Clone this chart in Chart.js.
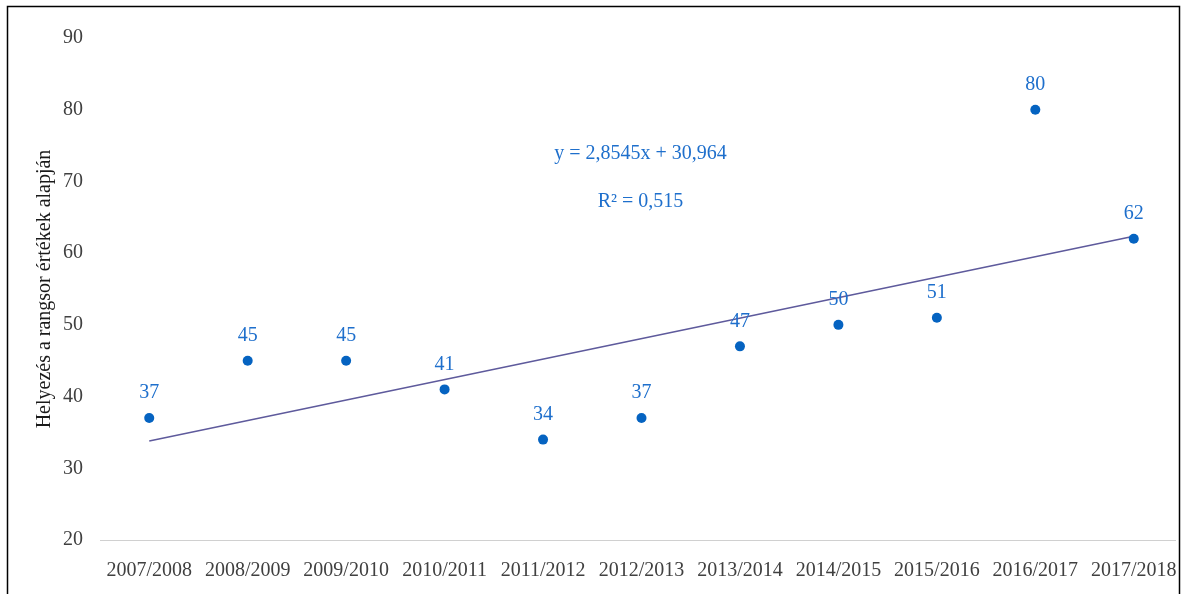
<!DOCTYPE html>
<html>
<head>
<meta charset="utf-8">
<script src="https://cdn.jsdelivr.net/npm/chart.js@4/dist/chart.umd.min.js"></script>
<style>
  html, body { margin: 0; padding: 0; background: #ffffff; }
  #wrap { width: 1183px; height: 594px; position: relative; }
</style>
</head>
<body>
<div id="wrap"><canvas id="c" width="1183" height="594"></canvas></div>
<script>
// Tanévek és a rangsor szerinti helyezések
const seasons = ['2007/2008','2008/2009','2009/2010','2010/2011','2011/2012','2012/2013',
                 '2013/2014','2014/2015','2015/2016','2016/2017','2017/2018'];
const rankValues = [37, 45, 45, 41, 34, 37, 47, 50, 51, 80, 62];
// Lineáris trend végpontjai (y = 2,8545x + 30,964 az első és utolsó tanévnél)
const trendEnds = [33.82, 62.36];
const yTicks = [20, 30, 40, 50, 60, 70, 80, 90];
const equationText = 'y = 2,8545x + 30,964';
const r2Text = 'R² = 0,515';
const yTitle = 'Helyezés a rangsor értékek alapján';

const trendData = seasons.map((_, i) =>
  i === 0 ? trendEnds[0] : (i === seasons.length - 1 ? trendEnds[1] : null));

const serif = "'Liberation Serif', 'Times New Roman', serif";
const labelBlue = '#1E6FCC';
const pointBlue = '#0563C1';

// Keret a diagram körül, értékcímkék és a trendegyenlet
const decorations = {
  id: 'decorations',
  beforeDraw(chart) {
    const ctx = chart.ctx;
    ctx.save();
    ctx.fillStyle = '#ffffff';
    ctx.fillRect(0, 0, chart.width, chart.height);
    ctx.restore();
  },
  afterDraw(chart) {
    const ctx = chart.ctx;
    ctx.save();
    // fehér sáv a keret jobb oldalán túl
    ctx.fillStyle = '#ffffff';
    ctx.fillRect(1176, 0, 10, chart.height);
    ctx.strokeStyle = '#000000';
    ctx.lineWidth = 1.5;
    ctx.strokeRect(7.5, 6.5, 1172, 600);

    const meta = chart.getDatasetMeta(0);
    ctx.fillStyle = labelBlue;
    ctx.font = '20px ' + serif;
    ctx.textAlign = 'center';
    ctx.textBaseline = 'middle';
    meta.data.forEach((pt, i) => {
      ctx.fillText(String(rankValues[i]), pt.x, pt.y - 25);
    });

    const xs = chart.scales.x, ys = chart.scales.y;
    const cx = xs.getPixelForValue(5);
    ctx.fillText(equationText, cx - 1, ys.getPixelForValue(73.9));
    ctx.fillText(r2Text, cx - 1, ys.getPixelForValue(67.2));
    ctx.restore();
  }
};

new Chart(document.getElementById('c'), {
  type: 'line',
  data: {
    labels: seasons,
    datasets: [
      {
        label: 'Helyezés',
        data: rankValues,
        showLine: false,
        pointRadius: 5,
        pointHoverRadius: 5,
        pointBackgroundColor: pointBlue,
        pointBorderColor: pointBlue,
        pointBorderWidth: 0,
        order: 0
      },
      {
        label: 'Lineáris trend',
        data: trendData,
        spanGaps: true,
        borderColor: '#5E5A9C',
        borderWidth: 1.5,
        pointRadius: 0,
        fill: false,
        order: 1
      }
    ]
  },
  options: {
    responsive: false,
    animation: false,
    devicePixelRatio: 1,
    layout: { autoPadding: false, padding: { top: 38, left: 33, right: 0, bottom: 0 } },
    plugins: {
      legend: { display: false },
      tooltip: { enabled: false }
    },
    scales: {
      x: {
        offset: true,
        afterFit(scale) {
          scale.height = 54;
          scale.paddingLeft = 0;
          scale.paddingRight = 0;
        },
        grid: { display: true, drawOnChartArea: false, drawTicks: true, tickLength: 19, tickColor: 'rgba(0,0,0,0)' },
        border: { display: true, color: '#d0d0d0', width: 1 },
        ticks: {
          color: '#404040',
          font: { family: serif, size: 20 },
          padding: 0,
          maxRotation: 0,
          autoSkip: false
        }
      },
      y: {
        min: 20,
        max: 90,
        afterBuildTicks(scale) { scale.ticks = yTicks.map(v => ({ value: v })); },
        afterFit(scale) { scale.width = 67; },
        grid: { display: false, drawTicks: false },
        border: { display: false },
        ticks: {
          color: '#404040',
          font: { family: serif, size: 20 },
          padding: 17
        },
        title: {
          display: true,
          text: yTitle,
          color: '#1a1a1a',
          font: { family: serif, size: 20 },
          padding: { top: 0, bottom: 0 }
        }
      }
    }
  },
  plugins: [decorations]
});
</script>
</body>
</html>
